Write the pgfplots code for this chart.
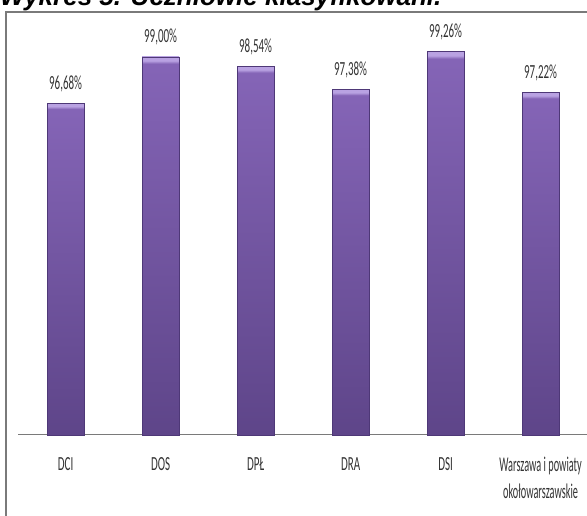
\documentclass[border=0pt]{standalone}
\usepackage{fontspec}
\usepackage{pgfplots}
\pgfplotsset{compat=1.18}
\newfontfamily\narrowfont[FakeStretch=0.55]{Carlito}
\newfontfamily\narrowerfont[FakeStretch=0.49]{Carlito}
\newfontfamily\titlefont{Liberation Sans}
\definecolor{barLight}{HTML}{B9A2E2}
\definecolor{barMid}{HTML}{8464B6}
\definecolor{barBot}{HTML}{5E4589}
\definecolor{barEdge}{HTML}{4E3877}
\definecolor{frameGray}{HTML}{7A7A7A}
\definecolor{txt}{HTML}{333333}
% vertical gradient with a light bevel at the top of each bar
\pgfdeclareverticalshading{barshade}{100bp}{
  color(0bp)=(barBot); color(25bp)=(barBot); color(73.6bp)=(barMid);
  color(74.1bp)=(barMid); color(74.5bp)=(barLight); color(100bp)=(barLight)}
\pgfplotsset{mybar/.style={draw=barEdge, line width=0.6pt, shade, shading=barshade}}

\begin{document}
\begin{tikzpicture}
\useasboundingbox (0pt,0pt) rectangle (587pt,516pt);
\clip (0pt,0pt) rectangle (587pt,516pt);
% title, cut off by the top edge as in the reference
\node[anchor=base west, inner sep=0] at (0pt,510pt)
  {\titlefont\bfseries\itshape\fontsize{26}{30}\selectfont Wykres 5. Uczniowie klasyfikowani.};
\draw[frameGray, line width=1.5pt] (6pt,-5pt) -- (6pt,504pt) -- (600pt,504pt);

\begin{axis}[
    at={(18.1pt,81pt)}, anchor=south west,
    scale only axis,
    width=579.5pt, height=398pt,
    xmin=-0.5, xmax=5.6,
    ymin=80, ymax=100,
    clip=false,
    separate axis lines,
    axis x line=bottom,
    axis y line=none,
    x axis line style={-, draw=frameGray, line width=1pt},
    xtick={0,1,2,3,4,5},
    xticklabels={DCI, DOS, DPŁ, DRA, DSI,
      {\narrowerfont\fontsize{21}{27}\selectfont Warszawa i powiaty\\
       \narrowerfont\fontsize{21}{27}\selectfont okołowarszawskie}},
    major tick length=0pt,
    xticklabel style={anchor=north, yshift=-19pt, align=center, text=txt,
        font=\narrowfont\fontsize{20}{27}\selectfont},
    ybar, bar width=37pt, bar shift=0pt,
    /pgf/number format/.cd, fixed, fixed zerofill, precision=2, use comma,
        assume math mode=true,
    /pgfplots/.cd,
    nodes near coords={\pgfmathprintnumber{\pgfplotspointmeta}\%},
    every node near coord/.append style={anchor=base, yshift=14pt, text=txt,
        font=\narrowfont\fontsize{20}{24}\selectfont},
]
% one plot per bar so that each bar gets its own gradient
\addplot[mybar] coordinates {(0,96.68)};
\addplot[mybar] coordinates {(1,99.00)};
\addplot[mybar] coordinates {(2,98.54)};
\addplot[mybar] coordinates {(3,97.38)};
\addplot[mybar] coordinates {(4,99.26)};
\addplot[mybar] coordinates {(5,97.22)};
\end{axis}
\end{tikzpicture}
\end{document}
